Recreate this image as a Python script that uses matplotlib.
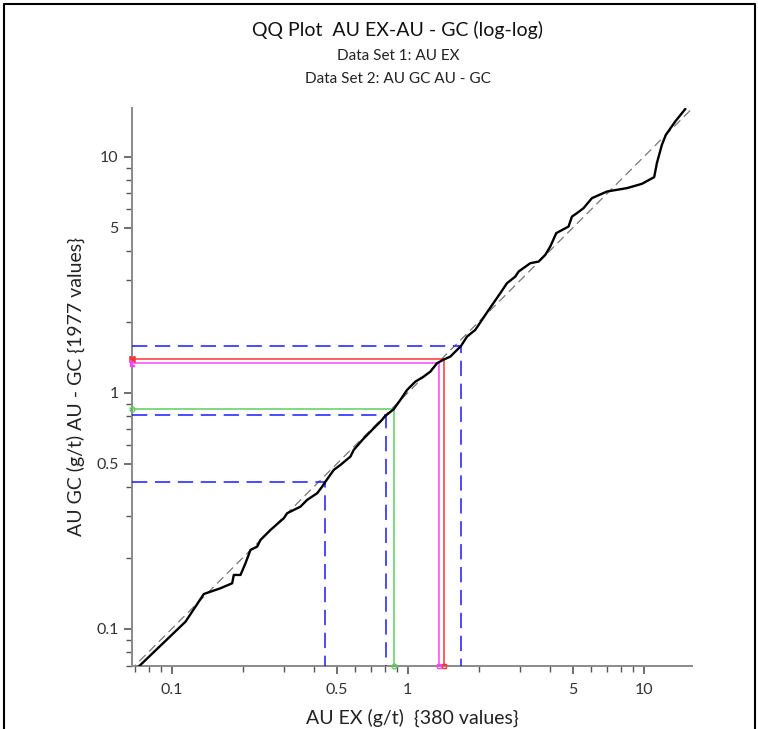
import matplotlib
matplotlib.use("Agg")
import matplotlib.pyplot as plt
from matplotlib.ticker import FixedLocator, NullFormatter, FixedFormatter
from matplotlib.lines import Line2D

plt.rcParams['font.family'] = ['Lato', 'DejaVu Sans']

# QQ curve: quantiles of data set 1 (x) vs data set 2 (y)
qq_x = [0.0716, 0.1146, 0.1370, 0.1612, 0.1806, 0.1835, 0.1959, 0.2056, 0.2159, 0.2305,
        0.2380, 0.2624, 0.2987, 0.3087, 0.3515, 0.3752, 0.4136, 0.4343, 0.4485, 0.4863,
        0.5191, 0.5722, 0.5909, 0.6430, 0.7068, 0.7665, 0.8048, 0.8724, 0.9313, 0.9942,
        1.0780, 1.1686, 1.2478, 1.3317, 1.4120, 1.5158, 1.6185, 1.6827, 1.7839, 1.9339,
        2.1745, 2.4679, 2.6343, 2.8566, 2.9496, 3.3067, 3.5843, 3.8250, 4.0165, 4.2586,
        4.8000, 4.9628, 5.2111, 5.5566, 6.0311, 6.9807, 8.4823, 9.8175, 11.066, 11.360,
        11.929, 12.404, 13.583, 14.970]
qq_y = [0.0684, 0.1074, 0.1407, 0.1488, 0.1562, 0.1694, 0.1694, 0.1898, 0.2162, 0.2233,
        0.2383, 0.2627, 0.2944, 0.3092, 0.3298, 0.3522, 0.3758, 0.4009, 0.4209, 0.4718,
        0.4954, 0.5372, 0.5734, 0.6323, 0.6970, 0.7558, 0.7990, 0.8530, 0.9340, 1.0297,
        1.1165, 1.1724, 1.2310, 1.3358, 1.3800, 1.4252, 1.5215, 1.5815, 1.7323, 1.8493,
        2.2036, 2.6460, 2.9163, 3.1104, 3.2659, 3.5440, 3.6000, 3.8430, 4.1687, 4.7510,
        5.0664, 5.5847, 5.7731, 6.0613, 6.6834, 7.1285, 7.3690, 7.6842, 8.2036, 9.4040,
        11.240, 12.397, 14.113, 15.925]

# Quantile marker lines (x value, y value)
blue_x = [0.4485, 0.8126, 1.6827]
blue_y = [0.4209, 0.8069, 1.5815]
green_xy = (0.8724, 0.8530)
red_xy = (1.4200, 1.3893)
magenta_xy = (1.3526, 1.3358)

x_lim = (0.068, 16.0)
y_lim = (0.0697, 16.1)
major_ticks = [0.1, 0.5, 1, 5, 10]
major_labels = ['0.1', '0.5', '1', '5', '10']
minor_ticks = [0.07, 0.08, 0.09, 0.2, 0.3, 0.4, 0.6, 0.7, 0.8, 0.9,
               2, 3, 4, 6, 7, 8, 9]

title = "QQ Plot  AU EX-AU - GC (log-log)"
sub1 = "Data Set 1: AU EX"
sub2 = "Data Set 2: AU GC AU - GC"
xlabel = "AU EX (g/t)  {380 values}"
ylabel = "AU GC (g/t) AU - GC {1977 values}"

W, H = 758, 729
fig = plt.figure(figsize=(W / 100, H / 100), dpi=100)
ax = fig.add_axes([132 / W, 1 - 666 / H, 560 / W, 558 / H])
ax.set_xscale('log')
ax.set_yscale('log')
ax.set_xlim(*x_lim)
ax.set_ylim(*y_lim)

axis_col = '#8a8a8a'
for s in ['top', 'right']:
    ax.spines[s].set_visible(False)
for s in ['left', 'bottom']:
    ax.spines[s].set_color(axis_col)
    ax.spines[s].set_linewidth(1.4)

for a in (ax.xaxis, ax.yaxis):
    a.set_major_locator(FixedLocator(major_ticks))
    a.set_major_formatter(FixedFormatter(major_labels))
    a.set_minor_locator(FixedLocator(minor_ticks))
    a.set_minor_formatter(NullFormatter())
ax.tick_params(which='major', direction='out', length=6, width=1.2, color='#555555',
               labelsize=11.5, labelcolor='#333333')
ax.tick_params(which='minor', direction='out', length=4, width=1.0, color='#555555')
ax.tick_params(axis='x', which='major', pad=6)

# diagonal y = x
ax.plot([0.05, 16.1], [0.05, 16.1], color='#777777', lw=0.9, dashes=(7, 4), zorder=2)

# quantile lines
xmin, ymin = x_lim[0], y_lim[0]
for qx, qy in zip(blue_x, blue_y):
    ax.plot([xmin, qx, qx], [qy, qy, ymin], color='#1a1aff', lw=1.1, dashes=(10, 5), zorder=3)
for (qx, qy), col in [(green_xy, '#5fcf5f'), (red_xy, '#ff3333'), (magenta_xy, '#ff44ff')]:
    ax.plot([xmin, qx, qx], [qy, qy, ymin], color=col, lw=1.1, zorder=3)

ax.plot(xmin, green_xy[1], marker='o', ms=3.5, mfc='none', mec='#5fcf5f', mew=1, clip_on=False, zorder=5)
ax.plot(green_xy[0], ymin, marker='o', ms=3.5, mfc='none', mec='#5fcf5f', mew=1, clip_on=False, zorder=5)
ax.plot(xmin, red_xy[1], marker='$\\mathsf{M}$', ms=4, color='#ff3333', clip_on=False, zorder=5)
ax.plot(xmin, magenta_xy[1], marker='$\\mathsf{L}$', ms=4, color='#ff44ff', clip_on=False, zorder=5)
ax.plot(red_xy[0], ymin, marker='s', ms=3.5, mfc='none', mec='#ff3333', clip_on=False, zorder=5)
ax.plot(magenta_xy[0], ymin, marker='s', ms=3.5, mfc='none', mec='#ff44ff', clip_on=False, zorder=5)

# QQ curve
ax.plot(qq_x, qq_y, color='black', lw=1.7, zorder=4, solid_joinstyle='round')

# labels
ax.set_xlabel(xlabel, fontsize=14, color='#222222', labelpad=9)
ax.set_ylabel(ylabel, fontsize=14, color='#222222', labelpad=8)

fig.text(398 / W, 1 - 30 / H, title, ha='center', va='center', fontsize=14, color='#111111')
fig.text(398 / W, 1 - 56 / H, sub1, ha='center', va='center', fontsize=11, color='#222222')
fig.text(398 / W, 1 - 79 / H, sub2, ha='center', va='center', fontsize=11, color='#222222')

# figure frame (left, top, right)
fx = [4 / W, 4 / W, 755 / W, 755 / W]
fy = [0.0, 1 - 4 / H, 1 - 4 / H, 0.0]
fig.add_artist(Line2D(fx, fy, color='black', lw=1.5, transform=fig.transFigure))

fig.savefig('out.png', dpi=100)
